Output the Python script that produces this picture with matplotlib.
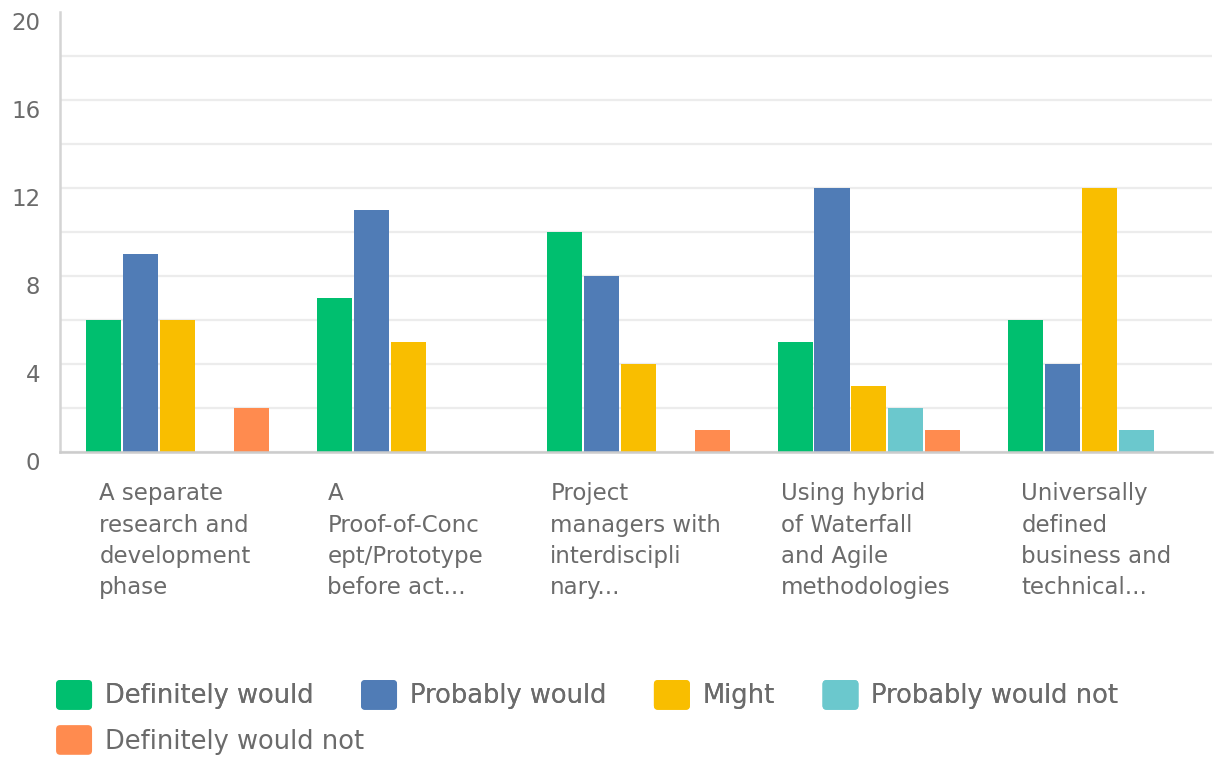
"""Grouped bar chart of survey answers per practice"""

import numpy as np
import matplotlib.pyplot as plt
import matplotlib.transforms as mtransforms
from matplotlib.patches import FancyBboxPatch
from matplotlib.legend_handler import HandlerPatch

# section: data
categories = [
    "A separate\nresearch and\ndevelopment\nphase",
    "A\nProof-of-Conc\nept/Prototype\nbefore act...",
    "Project\nmanagers with\ninterdiscipli\nnary...",
    "Using hybrid\nof Waterfall\nand Agile\nmethodologies",
    "Universally\ndefined\nbusiness and\ntechnical...",
]
series_names = [
    "Definitely would",
    "Probably would",
    "Might",
    "Probably would not",
    "Definitely would not",
]
definitely_would = [6, 7, 10, 5, 6]
probably_would = [9, 11, 8, 12, 4]
might = [6, 5, 4, 3, 12]
probably_would_not = [0, 0, 0, 2, 1]
definitely_would_not = [2, 0, 1, 1, 0]
y_ticks = [0, 4, 8, 12, 16, 20]

colors = ["#00BF6F", "#507CB6", "#F9BE00", "#6BC8CD", "#FF8B4F"]
text_color = "#6b6b6b"


def rounded_box(legend, orig_handle, xdescent, ydescent, width, height, fontsize):
    return FancyBboxPatch(
        (-xdescent, -ydescent), width, height,
        boxstyle="round,pad=0,rounding_size=3",
    )


def main():
    series = [definitely_would, probably_would, might,
              probably_would_not, definitely_would_not]

    fig = plt.figure(figsize=(12.19, 7.57), dpi=100)
    ax = fig.add_axes([0.049, 0.403, 0.945, 0.5812])

    # section: bars
    x = np.arange(len(categories))
    step, width = 0.16, 0.152
    handles = []
    for i, (name, vals) in enumerate(zip(series_names, series)):
        bars = ax.bar(x + (i - 2) * step + 0.012, vals, width=width,
                      color=colors[i], label=name, zorder=3)
        handles.append(bars)

    # section: axes styling
    ax.set_xlim(-0.5, len(categories) - 0.5)
    ax.set_ylim(0, 20)
    ax.set_yticks(y_ticks)
    ax.set_yticks(np.arange(2, 20, 4), minor=True)
    ax.grid(axis="y", which="both", color="#ececec", linewidth=1.6, zorder=0)
    ax.yaxis.get_major_ticks()[-1].gridline.set_visible(False)
    ax.set_xticks(x)
    ax.set_xticklabels(categories, fontsize=16.5, color=text_color,
                       ha="center", multialignment="left", linespacing=1.45)
    ax.tick_params(axis="x", length=0, pad=22)
    ax.tick_params(axis="y", which="both", length=0, pad=14,
                   labelsize=16.5, labelcolor=text_color)
    shift = mtransforms.ScaledTranslation(0, -9 / 100, fig.dpi_scale_trans)
    for lbl in ax.get_yticklabels():
        lbl.set_transform(lbl.get_transform() + shift)

    for side in ("top", "right"):
        ax.spines[side].set_visible(False)
    ax.spines["left"].set_color("#d4d4d4")
    ax.spines["left"].set_linewidth(1.8)
    ax.spines["bottom"].set_color("#cccccc")
    ax.spines["bottom"].set_linewidth(1.8)
    ax.spines["left"].set_zorder(4)
    ax.spines["bottom"].set_zorder(4)

    # section: legend (flow layout: 4 on first row, 1 on second)
    handler = {type(handles[0].patches[0]): HandlerPatch(patch_func=rounded_box)}
    proxies = [h.patches[0] for h in handles]
    common = dict(
        frameon=False, fontsize=18.5, handlelength=1.4, handleheight=1.4,
        handletextpad=0.5, columnspacing=1.85, borderpad=0, borderaxespad=0,
        labelcolor=text_color, loc="center left", handler_map=handler,
    )
    leg1 = fig.legend(proxies[:4], series_names[:4], ncol=4,
                      bbox_to_anchor=(0.046, 0.082), **common)
    fig.legend(proxies[4:], series_names[4:], ncol=1,
               bbox_to_anchor=(0.046, 0.0225), **common)
    fig.add_artist(leg1)

    fig.savefig("out.png", dpi=100)
    plt.close(fig)


if __name__ == "__main__":
    main()
